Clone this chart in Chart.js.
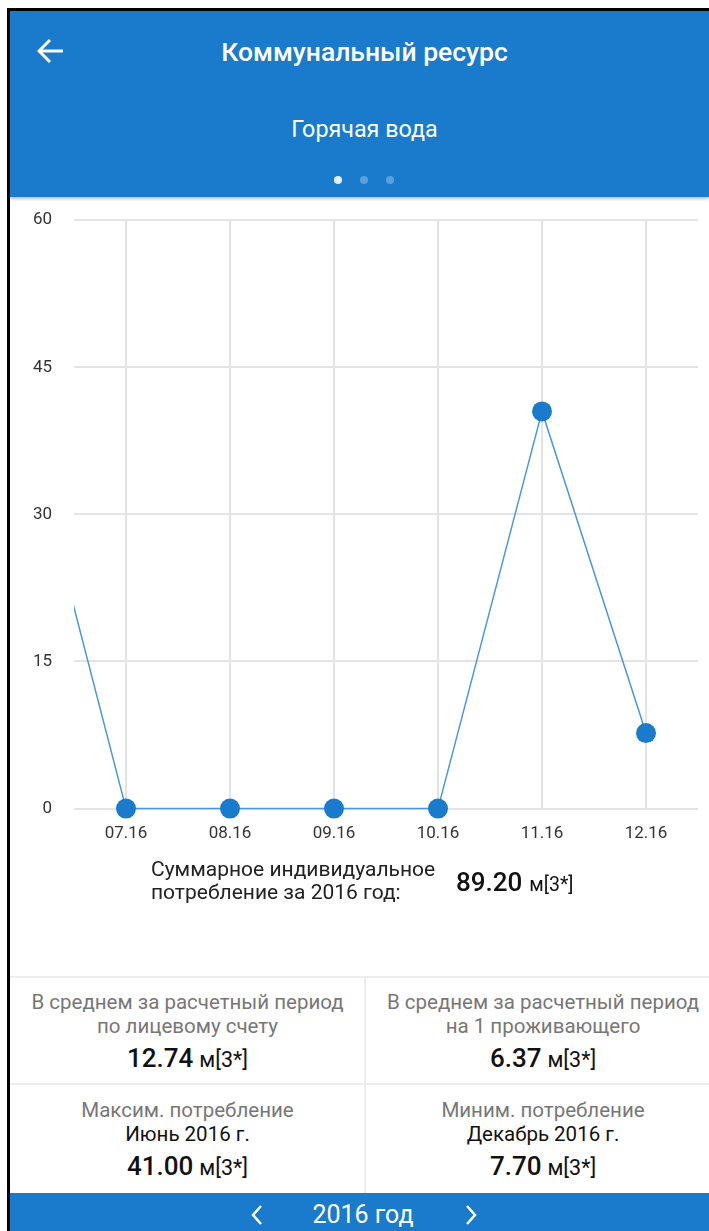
<!DOCTYPE html>
<html>
<head>
<meta charset="utf-8">
<script src="https://cdn.jsdelivr.net/npm/chart.js@4"></script>
<style>
  html, body { margin: 0; padding: 0; background: #fff; }
  body { width: 709px; height: 1231px; position: relative; overflow: hidden; font-family: Roboto, "Noto Sans", sans-serif; }
  .frame-top { position: absolute; left: 7px; top: 8px; width: 702px; height: 3px; background: #000; }
  .frame-left { position: absolute; left: 7px; top: 8px; width: 3px; height: 1223px; background: #000; }
  .header { position: absolute; left: 10px; top: 11px; width: 699px; height: 186px; background: #1a7bcd; box-shadow: 0 2px 3px rgba(0,0,0,0.25); }
  .title { position: absolute; left: 10px; width: 709px; top: 37px; line-height: 30px; text-align: center; color: #fff; font-size: 26.5px; font-weight: 500; }
  .subtitle { position: absolute; left: 10px; width: 709px; top: 115px; line-height: 28px; text-align: center; color: #fff; font-size: 23.3px; }
  .dot { position: absolute; top: 176px; width: 8px; height: 8px; border-radius: 50%; background: #5b9fdc; }
  .back { position: absolute; left: 37px; top: 38px; }
  #wrap { position: absolute; left: 10px; top: 188px; width: 699px; height: 671px; }
  .sum { position: absolute; left: 151px; top: 858px; font-size: 21px; line-height: 23px; color: #222; }
  .sumv { position: absolute; left: 456px; top: 867px; line-height: 30px; color: #111; }
  .big { font-size: 26px; font-weight: 500; }
  .unit { font-size: 19.5px; margin-left: 3px; }
  .cell .unit { font-size: 21.5px; margin-left: 2px; }
  .hline { position: absolute; left: 10px; width: 699px; height: 2px; background: #eeeeee; }
  .vline { position: absolute; left: 364px; top: 977px; width: 2px; height: 216px; background: #eeeeee; }
  .cell { position: absolute; text-align: center; }
  .cap { font-size: 20.5px; color: #777; line-height: 24px; white-space: nowrap; }
  .mon { font-size: 20.5px; color: #111; line-height: 24px; }
  .val { color: #111; margin-top: 5px; line-height: 30px; }
  .footer { position: absolute; left: 10px; top: 1193px; width: 699px; height: 38px; background: #1a7bcd; }
  .year { position: absolute; left: 0; width: 726px; top: 1200px; line-height: 30px; text-align: center; color: #fff; font-size: 25px; }
</style>
</head>
<body>
<div class="header"></div>
<div class="frame-top"></div>
<div class="frame-left"></div>
<svg class="back" width="28" height="26" viewBox="0 0 28 26">
  <polyline points="13,2 2,13 13,24" fill="none" stroke="#fff" stroke-width="3"/>
  <line x1="2" y1="13" x2="26" y2="13" stroke="#fff" stroke-width="3"/>
</svg>
<div class="title">Коммунальный ресурс</div>
<div class="subtitle">Горячая вода</div>
<div class="dot" style="left:334px;background:#e6f0fa"></div>
<div class="dot" style="left:360px"></div>
<div class="dot" style="left:386px"></div>

<div id="wrap"><canvas id="chart"></canvas></div>

<div class="sum">Суммарное индивидуальное<br>потребление за 2016 год:</div>
<div class="sumv"><span class="big">89.20</span> <span class="unit">м[3*]</span></div>

<div class="hline" style="top:976px"></div>
<div class="hline" style="top:1083px"></div>
<div class="vline"></div>

<div class="cell" style="left:10px;width:355px;top:990px">
  <div class="cap">В среднем за расчетный период<br>по лицевому счету</div>
  <div class="val"><span class="big">12.74</span> <span class="unit">м[3*]</span></div>
</div>
<div class="cell" style="left:366px;width:354px;top:990px">
  <div class="cap">В среднем за расчетный период<br>на 1 проживающего</div>
  <div class="val"><span class="big">6.37</span> <span class="unit">м[3*]</span></div>
</div>
<div class="cell" style="left:10px;width:355px;top:1098px">
  <div class="cap">Максим. потребление</div>
  <div class="mon">Июнь 2016 г.</div>
  <div class="val"><span class="big">41.00</span> <span class="unit">м[3*]</span></div>
</div>
<div class="cell" style="left:366px;width:354px;top:1098px">
  <div class="cap">Миним. потребление</div>
  <div class="mon">Декабрь 2016 г.</div>
  <div class="val"><span class="big">7.70</span> <span class="unit">м[3*]</span></div>
</div>

<div class="footer"></div>
<svg style="position:absolute;left:250px;top:1204px" width="14" height="22" viewBox="0 0 14 22">
  <polyline points="11,2 3,11 11,20" fill="none" stroke="#fff" stroke-width="2.5"/>
</svg>
<div class="year">2016 год</div>
<svg style="position:absolute;left:464px;top:1204px" width="14" height="22" viewBox="0 0 14 22">
  <polyline points="3,2 11,11 3,20" fill="none" stroke="#fff" stroke-width="2.5"/>
</svg>

<script>
// months on the x axis (06.16 sits just off the left edge)
const months = ['06.16', '07.16', '08.16', '09.16', '10.16', '11.16', '12.16'];
const consumption = [41.0, 0, 0, 0, 0, 40.5, 7.7];
const yTicks = [0, 15, 30, 45, 60];

const ctx = document.getElementById('chart').getContext('2d');
new Chart(ctx, {
  type: 'line',
  data: {
    labels: months,
    datasets: [{
      data: consumption,
      borderColor: '#4b97dd',
      borderWidth: 1.5,
      pointBackgroundColor: '#1a7bcd',
      pointBorderWidth: 0,
      pointRadius: 10,
      pointHoverRadius: 10,
      tension: 0,
      clip: { left: 0, top: false, right: false, bottom: false }
    }]
  },
  options: {
    responsive: true,
    maintainAspectRatio: false,
    animation: false,
    layout: { padding: { top: 0, right: 11, left: 0, bottom: 0 } },
    plugins: { legend: { display: false }, tooltip: { enabled: false } },
    scales: {
      x: {
        min: '07.16',
        offset: true,
        grid: { color: '#e4e4e4', lineWidth: 2, drawTicks: false },
        border: { display: false },
        ticks: { color: '#333', padding: 15, font: { family: 'Roboto', size: 17 }, maxRotation: 0 }
      },
      y: {
        min: yTicks[0],
        max: yTicks[yTicks.length - 1],
        afterFit: (scale) => { scale.width = 64; },
        afterBuildTicks: (scale) => { scale.ticks = yTicks.map(v => ({ value: v })); },
        grid: { color: '#e4e4e4', lineWidth: 2, drawTicks: false },
        border: { display: false },
        ticks: { color: '#333', padding: 22, font: { family: 'Roboto', size: 17 } }
      }
    }
  }
});
</script>
</body>
</html>
